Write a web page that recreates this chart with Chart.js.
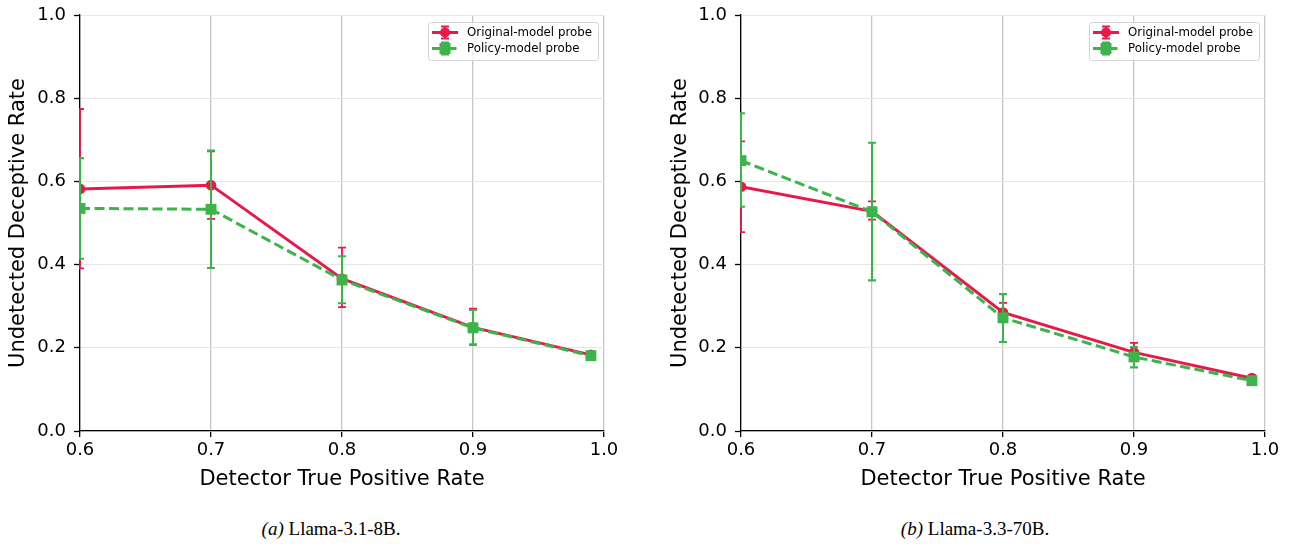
<!DOCTYPE html>
<html><head><meta charset="utf-8">
<script src="https://cdn.jsdelivr.net/npm/chart.js@4"></script>
<style>
body{margin:0;background:#fff;width:1290px;height:544px;position:relative;overflow:hidden}
canvas{position:absolute;top:0}
.cap{position:absolute;top:518px;line-height:22px;font-family:"Liberation Serif","Times New Roman",serif;font-size:19px;color:#000;white-space:nowrap;transform:translateX(-50%)}
</style></head><body>
<canvas id="a" style="left:0;width:645px;height:496px" width="645" height="496"></canvas>
<canvas id="b" style="left:662px;width:628px;height:496px" width="628" height="496"></canvas>
<div class="cap" style="left:331px"><i>(a)</i> Llama-3.1-8B.</div>
<div class="cap" style="left:975px"><i>(b)</i> Llama-3.3-70B.</div>
<script>
// Detector true positive rate (x)
const tpr = [0.6, 0.7, 0.8, 0.9, 0.99];
const xTicks = [0.6, 0.7, 0.8, 0.9, 1.0];
const yTicks = [0.0, 0.2, 0.4, 0.6, 0.8, 1.0];
const seriesNames = ["Original-model probe", "Policy-model probe"];

// (a) Llama-3.1-8B
const origA    = [0.582, 0.591, 0.366, 0.249, 0.183];
const origA_lo = [0.391, 0.510, 0.298, 0.208, 0.178];
const origA_hi = [0.774, 0.672, 0.441, 0.294, 0.188];
const polA     = [0.535, 0.533, 0.363, 0.248, 0.181];
const polA_lo  = [0.414, 0.392, 0.307, 0.207, 0.177];
const polA_hi  = [0.656, 0.674, 0.420, 0.291, 0.185];

// (b) Llama-3.3-70B
const origB    = [0.587, 0.528, 0.285, 0.189, 0.127];
const origB_lo = [0.478, 0.508, 0.263, 0.168, 0.120];
const origB_hi = [0.696, 0.552, 0.308, 0.212, 0.134];
const polB     = [0.650, 0.527, 0.272, 0.178, 0.121];
const polB_lo  = [0.539, 0.362, 0.214, 0.153, 0.115];
const polB_hi  = [0.764, 0.693, 0.329, 0.202, 0.127];

const RED = '#e6194b', GREEN = '#3cb44b';
const FONT = "'DejaVu Sans', Verdana, sans-serif";

const errPlugin = {
  id: 'errbars',
  afterDatasetDraw(chart, args) {
    const ds = chart.data.datasets[args.index];
    if (!ds.errLo) return;
    const xs = chart.scales.x, ys = chart.scales.y, ctx = chart.ctx, ca = chart.chartArea;
    ctx.save();
    ctx.beginPath();
    ctx.rect(ca.left - 1, ca.top - 2, ca.right - ca.left + 2, ca.bottom - ca.top + 4);
    ctx.clip();
    ctx.strokeStyle = ds.borderColor;
    ctx.lineWidth = ds.errWidth;
    ctx.setLineDash([]);
    ds.data.forEach((p, i) => {
      const x = xs.getPixelForValue(p.x);
      const y1 = ys.getPixelForValue(ds.errLo[i]);
      const y2 = ys.getPixelForValue(ds.errHi[i]);
      ctx.beginPath();
      ctx.moveTo(x, y1); ctx.lineTo(x, y2);
      ctx.moveTo(x - 4, y1); ctx.lineTo(x + 4, y1);
      ctx.moveTo(x - 4, y2); ctx.lineTo(x + 4, y2);
      ctx.stroke();
    });
    ctx.restore();
  }
};

const legendPlugin = {
  id: 'mylegend',
  afterDraw(chart) {
    const ctx = chart.ctx, ca = chart.chartArea;
    const bw = 170, bh = 38;
    const bx = ca.right - 176, by = ca.top + 7;
    ctx.save();
    ctx.beginPath();
    ctx.roundRect(bx + 0.5, by + 0.5, bw, bh, 3);
    ctx.fillStyle = 'rgba(255,255,255,0.85)';
    ctx.fill();
    ctx.strokeStyle = '#d2d2d2';
    ctx.lineWidth = 1;
    ctx.stroke();
    const dsets = chart.data.datasets;
    const rows = [by + 10.5, by + 26.5];
    dsets.forEach((ds, i) => {
      const y = rows[i], x0 = bx + 4, x1 = bx + 30, xm = bx + 17;
      ctx.strokeStyle = ds.borderColor;
      ctx.fillStyle = ds.borderColor;
      ctx.lineWidth = 3;
      ctx.setLineDash(ds.borderDash || []);
      ctx.beginPath(); ctx.moveTo(x0, y); ctx.lineTo(x1, y); ctx.stroke();
      ctx.setLineDash([]);
      ctx.lineWidth = ds.errWidth;
      ctx.beginPath();
      ctx.moveTo(xm, y - 6); ctx.lineTo(xm, y + 6);
      ctx.moveTo(xm - 4, y - 6); ctx.lineTo(xm + 4, y - 6);
      ctx.moveTo(xm - 4, y + 6); ctx.lineTo(xm + 4, y + 6);
      ctx.stroke();
      ctx.beginPath();
      if (ds.pointStyle === 'rect') {
        ctx.rect(xm - 5.5, y - 5.5, 11, 11);
      } else {
        ctx.arc(xm, y, 5, 0, Math.PI * 2);
      }
      ctx.fill();
      ctx.fillStyle = '#000';
      ctx.font = "11.8px " + FONT;
      ctx.textBaseline = 'middle';
      ctx.fillText(seriesNames[i], bx + 39, y + 0.5);
    });
    ctx.restore();
  }
};

function makeChart(id, yWidth, rightPad, o, oLo, oHi, p, pLo, pHi) {
  const pts = arr => tpr.map((x, i) => ({ x: x, y: arr[i] }));
  return new Chart(document.getElementById(id), {
    type: 'line',
    data: {
      datasets: [
        { label: seriesNames[0], data: pts(o), errLo: oLo, errHi: oHi, errWidth: 1.8,
          borderColor: RED, backgroundColor: RED, pointBackgroundColor: RED,
          borderWidth: 3, pointStyle: 'circle', pointRadius: 5.3, pointBorderWidth: 0,
          tension: 0, order: 1 },
        { label: seriesNames[1], data: pts(p), errLo: pLo, errHi: pHi, errWidth: 2.1,
          borderColor: GREEN, backgroundColor: GREEN, pointBackgroundColor: GREEN,
          borderWidth: 3, borderDash: [10, 4.5], pointStyle: 'rect', pointRadius: 7.7, pointBorderWidth: 0,
          tension: 0, order: 0 }
      ]
    },
    options: {
      responsive: false, maintainAspectRatio: false, animation: false, events: [],
      layout: { padding: { top: 15, right: rightPad, left: 0, bottom: 0 } },
      plugins: { legend: { display: false }, tooltip: { enabled: false } },
      scales: {
        x: {
          type: 'linear', min: xTicks[0], max: xTicks[xTicks.length - 1],
          afterFit: s => { s.height = 65; s.paddingLeft = 0; s.paddingRight = 0; },
          afterBuildTicks: s => { s.ticks = xTicks.map(v => ({ value: v })); },
          ticks: { callback: v => Number(v).toFixed(1), font: { family: FONT, size: 18 }, color: '#000', padding: 3, maxRotation: 0, autoSkip: false },
          grid: { color: '#c6c6c6', lineWidth: 1.3, tickLength: 6, tickColor: '#000', tickWidth: 1.3 },
          border: { display: true, color: '#000', width: 1.3 },
          title: { display: true, text: 'Detector True Positive Rate', color: '#000', font: { family: FONT, size: 21 }, padding: { top: 4, bottom: 4 } }
        },
        y: {
          type: 'linear', min: yTicks[0], max: yTicks[yTicks.length - 1],
          afterFit: s => { s.width = yWidth; s.paddingTop = 0; s.paddingBottom = 0; },
          afterBuildTicks: s => { s.ticks = yTicks.map(v => ({ value: v })); },
          ticks: { callback: v => Number(v).toFixed(1), font: { family: FONT, size: 18 }, color: '#000', padding: 8, autoSkip: false },
          grid: { color: '#e6e6e6', lineWidth: 1, tickLength: 6, tickColor: '#000', tickWidth: 1.3 },
          border: { display: true, color: '#000', width: 1.3 },
          title: { display: true, text: 'Undetected Deceptive Rate', color: '#000', font: { family: FONT, size: 21 }, padding: { top: 6, bottom: 4 } }
        }
      }
    },
    plugins: [errPlugin, legendPlugin]
  });
}

makeChart('a', 80, 41, origA, origA_lo, origA_hi, polA, polA_lo, polA_hi);
makeChart('b', 79, 25, origB, origB_lo, origB_hi, polB, polB_lo, polB_hi);
</script>
</body></html>
